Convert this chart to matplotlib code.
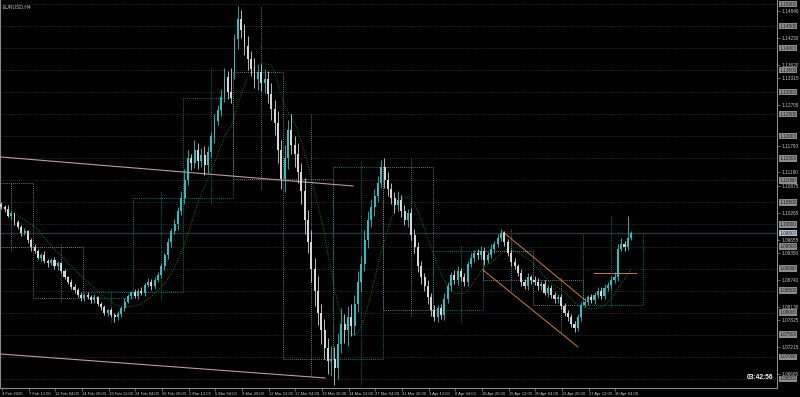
import numpy as np
import pandas as pd
import matplotlib
matplotlib.use("Agg")
import matplotlib.pyplot as plt
import matplotlib.transforms as mtransforms

plt.rcParams["font.family"] = ["Liberation Sans", "DejaVu Sans"]

# EURUSD H4, 4 Feb - 1 May 2020. One candle here = two H4 bars.
# prices are given in pips above 1.0000
first_open = 1046
gap_opens = {70: 1346}          # Monday 9 Mar gap
week0_open, week0_high = 1094, 1096

close_pips = """
1040 1035 1020 1025 1005 995 980 985 965 948
940 925 930 918 912 920 905 912 895 880
870 858 852 840 833 840 835 828 835 820
812 800 806 795 790 796 810 825 838 846
838 850 845 862 870 860 875 885 905 930
960 985 1000 1030 1060 1100 1150 1140 1170 1145
1158 1135 1165 1200 1235 1260 1290 1335 1300 1286
1420 1466 1440 1405 1375 1352 1330 1345 1320 1330
1295 1262 1230 1170 1102 1150 1215 1180 1160 1120
1075 1010 960 900 850 800 760 720 690 695
675 730 775 760 790 770 820 870 910 965
1010 1040 1065 1095 1130 1100 1080 1060 1045 1055
1030 1010 1025 975 950 905 880 860 835 805
790 810 795 830 860 885 875 895 880 870
910 925 935 930 940 920 930 945 955 970
980 960 935 915 905 890 870 860 880 875
870 860 865 845 855 840 830 835 815 800
790 775 765 790 818 825 835 828 840 850
838 855 862 875 880 945 955 948 970 980
"""
upper_wick = """
6 4 8 5 3 6 4 7 3 5
8 4 6 9 3 5 7 4 3 5
4 6 8 3 7 4 6 5 8 3
4 6 3 5 4 8 6 9 5 4
7 6 8 5 9 6 5 7 8 6
10 8 12 9 15 25 18 10 22 14
16 20 12 10 15 12 18 20 14 55
12 29 20 15 22 18 25 16 20 22
18 25 20 28 22 30 21 35 20 25
20 30 22 28 25 32 20 26 22 30
28 24 35 22 26 30 20 24 18 22
20 18 15 16 17 20 18 15 14 20
12 15 10 12 14 10 12 9 14 10
12 8 10 14 9 8 12 10 7 9
8 10 6 9 11 8 7 10 8 9
10 6 8 7 10 6 8 7 9 6
7 8 6 9 7 8 6 7 8 6
5 7 6 8 7 9 6 8 7 9
8 10 7 9 12 10 14 8 49 6
"""
lower_wick = """
5 7 4 8 6 5 7 4 6 8
5 4 7 6 8 4 5 9 6 4
6 5 8 4 6 7 3 5 6 4
7 5 8 4 12 6 5 7 4 6
5 8 6 7 4 9 6 5 7 8
8 10 7 12 9 14 10 16 12 20
14 22 18 12 15 10 14 12 16 10
16 22 18 20 24 16 20 25 18 22
20 24 26 30 22 28 25 20 30 26
28 32 25 30 35 28 32 26 30 34
39 26 22 28 35 24 20 18 22 16
18 15 20 14 12 18 16 14 20 15
14 12 16 10 15 12 14 10 16 12
10 12 9 11 8 10 9 12 8 10
9 7 10 8 9 11 8 7 9 6
8 9 7 10 6 8 9 7 8 10
7 9 8 6 10 7 8 9 7 8
9 8 10 7 9 6 8 7 9 6
7 8 6 9 7 8 6 9 7 5
"""

time_labels = ["4 Feb 2020", "7 Feb 12:00", "12 Feb 04:00", "14 Feb 20:00", "19 Feb 12:00",
               "24 Feb 04:00", "26 Feb 20:00", "2 Mar 12:00", "5 Mar 04:00", "9 Mar 20:00",
               "12 Mar 12:00", "17 Mar 04:00", "19 Mar 20:00", "24 Mar 12:00", "27 Mar 04:00",
               "31 Mar 20:00", "3 Apr 12:00", "8 Apr 04:00", "10 Apr 20:00", "15 Apr 12:00",
               "20 Apr 04:00", "22 Apr 20:00", "27 Apr 12:00", "30 Apr 04:00"]

# drawn objects: (bar, price) end points
trend_lines = [((-2, 1.11535), (210.6, 1.10872)),
               ((-2, 1.07065), (193.8, 1.06518))]
channel_lines = [((300.6, 1.09829), (349.8, 1.08287)),
                 ((288.6, 1.08967), (345.6, 1.07221)),
                 ((355.2, 1.08899), (380.4, 1.08899))]

round_levels = np.round(np.arange(1.15, 1.0640, -0.005), 4)
axis_labels = np.round(1.14840 - 0.00305 * np.arange(28), 5)

BG = "#000000"
BULL = "#23c3c3"
BEAR = "#d6d6d6"
BOX_UP = "#0a9ea6"
BOX_DN = "#9a9a9a"


def pips(s):
    return np.array([int(v) for v in s.split()], dtype=float)


c = 1 + pips(close_pips) / 10000
o = 1 + np.r_[first_open, pips(close_pips)[:-1]] / 10000
for j, v in gap_opens.items():
    o[j] = 1 + v / 10000
h = np.maximum(o, c) + pips(upper_wick) / 10000
l = np.minimum(o, c) - pips(lower_wick) / 10000
n = len(c)
xb = 2 * np.arange(n) - 0.5          # position in H4-bar units

fig = plt.figure(figsize=(8, 3.97), dpi=100, facecolor=BG)
ax = fig.add_axes([0, 9 / 397, 777 / 800, 388 / 397], facecolor=BG)
ax.set_xlim(-1.2, 465)
ax.set_ylim(1.15 - 384 * 0.0002268, 1.15 + 4 * 0.0002268)

# round-number levels
for lv in round_levels:
    ax.axhline(lv, color="#555555", lw=0.5, ls=(0, (1, 2)), zorder=1)

# weekly candles drawn over the chart
weeks = [(0, 9)] + [(10 + 15 * k, 24 + 15 * k) for k in range(12)]
for i, (f, e) in enumerate(weeks):
    wo = week0_open / 10000 + 1 if i == 0 else o[f]
    wc = c[e]
    wh = h[f:e + 1].max()
    wl = l[f:e + 1].min()
    if i == 0:
        wh = max(wh, 1 + week0_high / 10000)
    col = BOX_UP if wc >= wo else BOX_DN
    left = -1.5 if i == 0 else xb[f] - 1
    right = xb[e] + (7 if e == n - 1 else 1)
    ax.plot([left, right, right, left, left], [wo, wo, wc, wc, wo], color=col,
            lw=0.6, ls=(0, (1, 1.5)), zorder=2)
    wx = 2 * f - 1 + 16.5 if i > 0 else 5.5
    ax.plot([wx, wx], [wl, wh], color=col, lw=0.6, ls=(0, (1, 1.5)), zorder=2)

# moving average
ma = pd.Series(c).rolling(12, min_periods=1).mean()
ax.plot(xb, ma, color="#0a8a0a", lw=0.7, ls=(0, (1, 1.5)), zorder=3)

for (x0, y0), (x1, y1) in trend_lines:
    ax.plot([x0, x1], [y0, y1], color="#bf9aa2", lw=0.8, zorder=3)
for (x0, y0), (x1, y1) in channel_lines:
    ax.plot([x0, x1], [y0, y1], color="#d08224", lw=0.7, zorder=3)

# bid line
ax.axhline(c[-1], color="#2e343a", lw=1.0, zorder=2)

cols = np.where(c >= o, BULL, BEAR)
ax.vlines(xb, l, h, colors=cols, lw=0.6, zorder=4)
ax.bar(xb, np.maximum(np.abs(c - o), 0.00008), bottom=np.minimum(o, c), width=1.2,
       color=cols, linewidth=0, zorder=5)

# axes
ax.spines["top"].set_visible(False)
for side in ["left", "right", "bottom"]:
    ax.spines[side].set_color("#8a8a8a")
    ax.spines[side].set_linewidth(0.8)

# plain price labels hidden where a level label sits on top of them
tick_px = 388 / (ax.get_ylim()[1] - ax.get_ylim()[0])
marks = np.r_[round_levels, c[-1]]
shown = [p for p in axis_labels
         if p > ax.get_ylim()[0] + 0.0008 and np.min(np.abs(marks - p)) * tick_px > 4.5]
ax.yaxis.tick_right()
ax.set_yticks(shown)
ax.set_yticklabels([f"{p:.5f}" for p in shown])
ax.tick_params(axis="y", colors="#8a8a8a", labelcolor="#c8c8c8", labelsize=3.4,
               length=2, width=0.5, pad=1)
ax.set_xticks(np.arange(len(time_labels)) * 16)
ax.set_xticklabels(time_labels, ha="left")
ax.tick_params(axis="x", colors="#8a8a8a", labelcolor="#c8c8c8", labelsize=3.0,
               length=2, width=0.5, pad=1)

tr = mtransforms.blended_transform_factory(ax.transAxes, ax.transData)
for lv in round_levels:
    ax.text(1.003, lv, f"{lv:.5f}", transform=tr, fontsize=3.4, va="center", ha="left",
            color="#1e1e1e", clip_on=False, zorder=6,
            bbox=dict(boxstyle="square,pad=0.15", fc="#8c8c8c", ec="none"))
ax.text(1.003, c[-1], f"{c[-1]:.5f}", transform=tr, fontsize=3.4, va="center", ha="left",
        color="#1e1e1e", clip_on=False, zorder=7,
        bbox=dict(boxstyle="square,pad=0.15", fc="#b4c4d6", ec="none"))

ax.text(0.004, 0.99, "EURUSD,H4", transform=ax.transAxes, fontsize=3.6, color="#c8c8c8",
        va="top", ha="left")
ax.text(0.995, 0.018, "03:42:56", transform=ax.transAxes, fontsize=4.8, color="white",
        fontweight="bold", va="bottom", ha="right")

fig.savefig("out.png", dpi=100, facecolor=BG)
